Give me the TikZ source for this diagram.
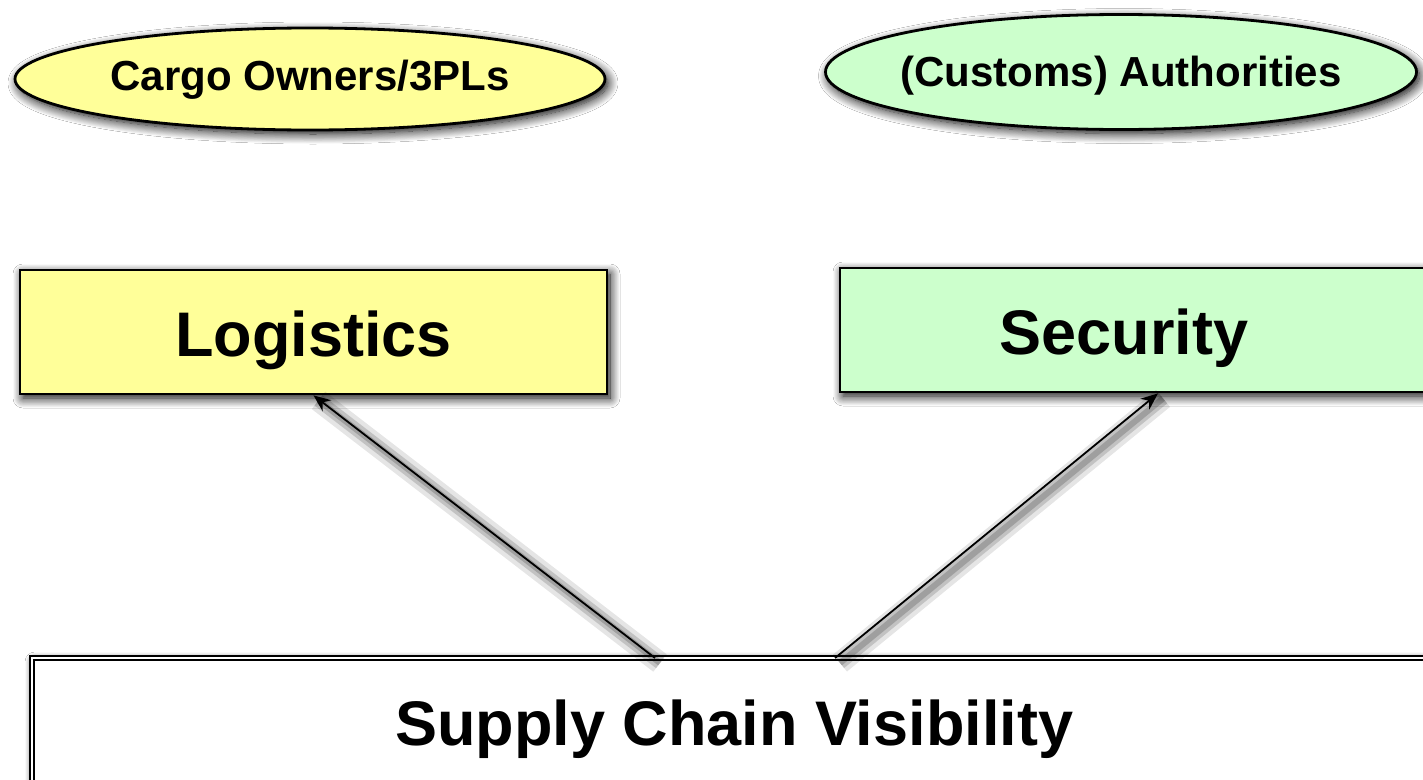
\documentclass[tikz,border=0pt]{standalone}
\usepackage{fontspec}
\setmainfont{Liberation Sans}
\usetikzlibrary{shapes.geometric,shadows.blur,arrows.meta,calc}
\definecolor{ylw}{HTML}{FFFF99}
\definecolor{grn}{HTML}{CCFFCC}
\tikzset{
 shad/.style={blur shadow={shadow xshift=3pt,shadow yshift=-4pt,shadow blur radius=10pt,shadow blur steps=12,shadow opacity=100}},
 oval/.style={ellipse, draw=black, line width=2.8pt, shad, inner sep=0pt},
 ovaltext/.style={font=\bfseries\fontsize{42}{48}\selectfont, inner sep=0pt},
 bigbox/.style={rectangle, draw=black, line width=2.8pt, shad, inner sep=0pt},
 bigtext/.style={font=\bfseries\fontsize{63}{72}\selectfont, inner sep=0pt},
 lshad/.style={preaction={draw=black, opacity=0.10, line width=22pt, -, transform canvas={xshift=5pt,yshift=-5pt}},
               preaction={draw=black, opacity=0.15, line width=13pt, -, transform canvas={xshift=5pt,yshift=-5pt}},
               preaction={draw=black, opacity=0.18, line width=6pt, -, transform canvas={xshift=5pt,yshift=-5pt}}},
 conn/.style={-{Stealth[length=17pt,width=14pt]}, line width=1.8pt, lshad}
}
\begin{document}
\begin{tikzpicture}[x=1pt,y=-1pt]
\useasboundingbox (0,0) rectangle (1423,779);
\clip (0,0) rectangle (1423,779);
\fill[white] (0,0) rectangle (1423,779);
% ellipses
\node[oval, fill=ylw, minimum width=590pt, minimum height=102pt,
      label={[ovaltext, yshift=-1pt]center:Cargo Owners/3PLs}] (cargo) at (310,79) {};
\node[oval, fill=grn, minimum width=591pt, minimum height=115pt,
      label={[ovaltext, yshift=-4pt]center:(Customs) Authorities}] (cust) at (1121,72) {};
% bottom box
\node[bigbox, fill=white, double=white, double distance=2.2pt, line width=1.8pt,
      minimum width=1404pt, minimum height=126pt,
      label={[bigtext, yshift=-8pt]center:Supply Chain Visibility}] (svis) at (734,721) {};
% arrows
\coordinate (s1) at (655,658);
\coordinate (s2) at (835,658);
% boxes
\node[bigbox, fill=ylw, minimum width=587pt, minimum height=124pt,
      label={[bigtext, yshift=-8pt]center:Logistics}] (logi) at (313.5,332) {};
\node[bigbox, fill=grn, minimum width=600pt, minimum height=124pt,
      label={[bigtext, xshift=-16pt, yshift=-8pt]center:Security}] (sec) at (1140,330) {};
\draw[conn] (s1) -- (logi.south);
\draw[conn] (s2) -- ($(sec.south)+(18,0)$);
\end{tikzpicture}
\end{document}
